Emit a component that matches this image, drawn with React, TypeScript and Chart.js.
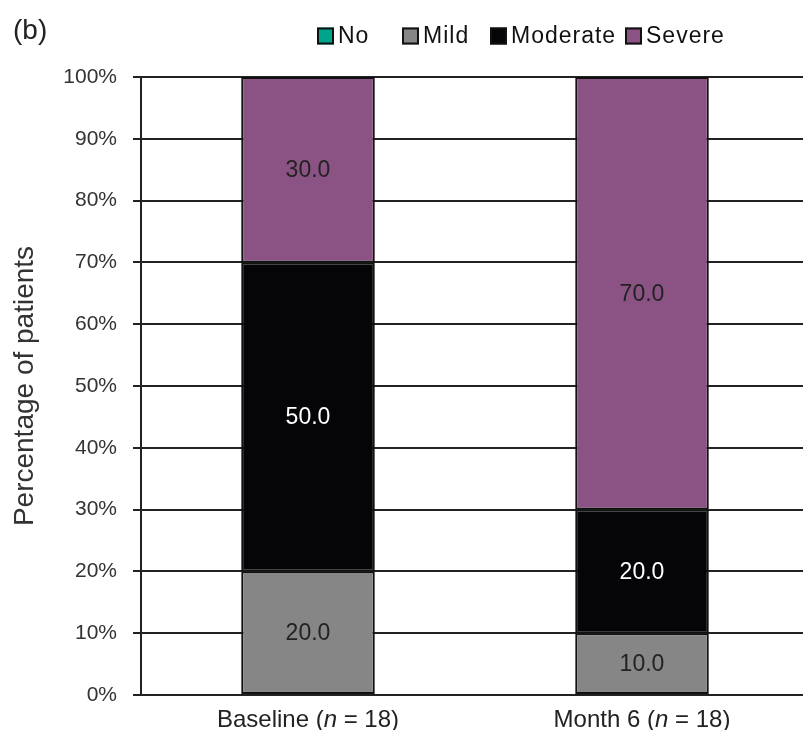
import React, { useEffect, useRef } from "react";
import { Chart, registerables } from "chart.js";

Chart.register(...registerables);

// ---- Data ----
const categories = ["Baseline", "Month 6"];
const sampleSizes = [18, 18];
const seriesNames = ["No", "Mild", "Moderate", "Severe"];
const noValues = [0, 0];
const mildValues = [20.0, 10.0];
const moderateValues = [50.0, 20.0];
const severeValues = [30.0, 70.0];
const yTickValues = [0, 10, 20, 30, 40, 50, 60, 70, 80, 90, 100];
const panelLabel = "(b)";
const yAxisTitle = "Percentage of patients";

// ---- Styles ----
const seriesColors = ["#00A48A", "#868686", "#050508", "#8B5383"];
const labelColors = ["#222222", "#222222", "#FFFFFF", "#222222"];
const FONT = "'Liberation Sans', Arial, Helvetica, sans-serif";
const INK = "#222222";

const decorPlugin = {
  id: "decor",
  afterDatasetsDraw(chart: any) {
    const ctx = chart.ctx;
    chart.data.datasets.forEach((ds: any, di: number) => {
      const meta = chart.getDatasetMeta(di);
      meta.data.forEach((bar: any, i: number) => {
        const v = ds.data[i];
        if (!v) return;
        const p = bar.getProps(["x", "y", "base"], true);
        ctx.save();
        ctx.font = `23px ${FONT}`;
        ctx.fillStyle = labelColors[di];
        ctx.textAlign = "center";
        ctx.textBaseline = "middle";
        ctx.fillText(v.toFixed(1), p.x, (p.y + p.base) / 2 + 1);
        ctx.restore();
      });
    });
  },
  afterDraw(chart: any) {
    const ctx = chart.ctx;
    const area = chart.chartArea;
    // panel label
    ctx.save();
    ctx.font = `28px ${FONT}`;
    ctx.fillStyle = INK;
    ctx.textAlign = "left";
    ctx.textBaseline = "middle";
    ctx.fillText(panelLabel, 5, 23);
    ctx.restore();

    // legend
    const boxX = [309, 394, 482, 617];
    const legendY = 28;
    const box = 17;
    ctx.save();
    ctx.font = `23px ${FONT}`;
    (ctx as any).letterSpacing = "1px";
    ctx.textBaseline = "middle";
    ctx.textAlign = "left";
    chart.data.datasets.forEach((ds: any, di: number) => {
      const bx = boxX[di];
      ctx.fillStyle = seriesColors[di];
      ctx.fillRect(bx, legendY - box / 2, box, box);
      ctx.lineWidth = 2;
      ctx.strokeStyle = "#111111";
      ctx.strokeRect(bx + 1, legendY - box / 2 + 1, box - 2, box - 2);
      ctx.fillStyle = "#111111";
      ctx.fillText(ds.label, bx + box + 4, legendY + 1);
    });
    ctx.restore();

    // x-axis labels with italic n
    const xScale = chart.scales.x;
    ctx.save();
    ctx.fillStyle = INK;
    ctx.textBaseline = "middle";
    ctx.textAlign = "left";
    const normal = `24px ${FONT}`;
    const italic = `italic 24px ${FONT}`;
    categories.forEach((cat, i) => {
      const parts: [string, string][] = [
        [cat + " (", normal],
        ["n", italic],
        [" = " + sampleSizes[i] + ")", normal],
      ];
      let total = 0;
      parts.forEach(([t, f]) => {
        ctx.font = f;
        total += ctx.measureText(t).width;
      });
      let x = xScale.getPixelForValue(i) - total / 2;
      const y = area.bottom + 25;
      parts.forEach(([t, f]) => {
        ctx.font = f;
        ctx.fillText(t, x, y);
        x += ctx.measureText(t).width;
      });
    });
    ctx.restore();
  },
};

export default function App() {
  const canvasRef = useRef<HTMLCanvasElement | null>(null);

  useEffect(() => {
    if (!canvasRef.current) return;
    const seriesValues = [noValues, mildValues, moderateValues, severeValues];
    const chart = new Chart(canvasRef.current, {
      type: "bar",
      data: {
        labels: categories,
        datasets: seriesNames.map((name, i) => ({
          label: name,
          data: seriesValues[i],
          backgroundColor: seriesColors[i],
          borderColor: "#111111",
          borderWidth: 2,
          borderSkipped: false,
          barPercentage: 0.4,
          categoryPercentage: 1.0,
        })),
      },
      options: {
        responsive: true,
        maintainAspectRatio: false,
        animation: false,
        layout: { padding: { top: 69, bottom: 35, right: 2, left: 0 } },
        plugins: {
          legend: { display: false },
          tooltip: { enabled: false },
          title: { display: false },
        },
        scales: {
          x: {
            display: false,
            stacked: true,
          },
          y: {
            stacked: true,
            min: 0,
            max: 100,
            afterFit(scale: any) {
              scale.width = 133;
            },
            afterBuildTicks(scale: any) {
              scale.ticks = yTickValues.map((v) => ({ value: v }));
            },
            ticks: {
              padding: 16,
              color: "#333333",
              font: { family: FONT, size: 21 },
              callback: (v: any) => `${v}%`,
            },
            grid: {
              color: INK,
              lineWidth: 2,
              drawTicks: true,
              tickLength: 8,
              tickColor: INK,
            },
            border: { display: true, color: INK, width: 2 },
            title: {
              display: true,
              text: yAxisTitle,
              color: "#333333",
              font: { family: FONT, size: 28 },
              padding: { top: 0, bottom: 0 },
            },
          },
        },
      },
      plugins: [decorPlugin],
    });
    return () => chart.destroy();
  }, []);

  return (
    <div style={{ width: 803, height: 722, position: "relative" }}>
      <canvas ref={canvasRef} />
    </div>
  );
}
